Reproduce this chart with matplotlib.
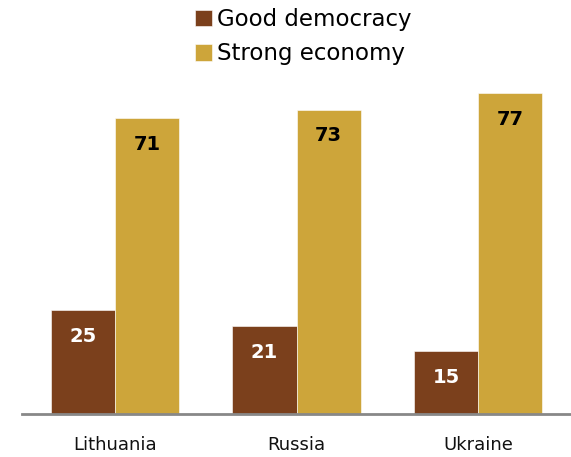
import matplotlib
matplotlib.use("Agg")
import matplotlib.pyplot as plt
import numpy as np

countries = ["Lithuania", "Russia", "Ukraine"]
series_names = ["Good democracy", "Strong economy"]
good_democracy = [25, 21, 15]
strong_economy = [71, 73, 77]

dark_brown = "#7B401C"
gold = "#CDA53A"

plt.rcParams["font.family"] = ["DejaVu Sans"]

fig = plt.figure(figsize=(5.71, 4.57), dpi=100)
ax = fig.add_axes([22 / 571, 43 / 457, 549 / 571, (414 - 80.4) / 457])

x = np.arange(len(countries))
w = 0.3526
b1 = ax.bar(x - w / 2, good_democracy, w, color=dark_brown, edgecolor="#FFFFFF", linewidth=0.4,
            label=series_names[0])
b2 = ax.bar(x + w / 2, strong_economy, w, color=gold, edgecolor="#FFFFFF", linewidth=0.4,
            label=series_names[1])

for rect, v in zip(b1, good_democracy):
    ax.annotate(f"{v}", (rect.get_x() + rect.get_width() / 2, v), xytext=(0, -19),
                textcoords="offset points", ha="center", va="center",
                fontsize=14, fontweight="bold", color="white")
for rect, v in zip(b2, strong_economy):
    ax.annotate(f"{v}", (rect.get_x() + rect.get_width() / 2, v), xytext=(0, -19),
                textcoords="offset points", ha="center", va="center",
                fontsize=14, fontweight="bold", color="black")

ax.set_xlim(-0.512, 2.512)
ax.set_ylim(0, 80)
ax.set_xticks(x)
ax.set_xticklabels(countries, fontsize=13, color="#111111")
ax.tick_params(axis="x", length=0, pad=16)
ax.set_yticks([])
for side in ["left", "right", "top"]:
    ax.spines[side].set_visible(False)
ax.spines["bottom"].set_color("#888888")
ax.spines["bottom"].set_linewidth(2)

fig.legend(handles=[b1, b2], labels=series_names, loc="upper left",
           bbox_to_anchor=(195 / 571, 1 - 8 / 457), frameon=False, fontsize=16.5,
           handlelength=0.72, handleheight=0.72, handletextpad=0.25,
           labelspacing=0.5, borderpad=0, borderaxespad=0)

fig.savefig("out.png", dpi=100)
